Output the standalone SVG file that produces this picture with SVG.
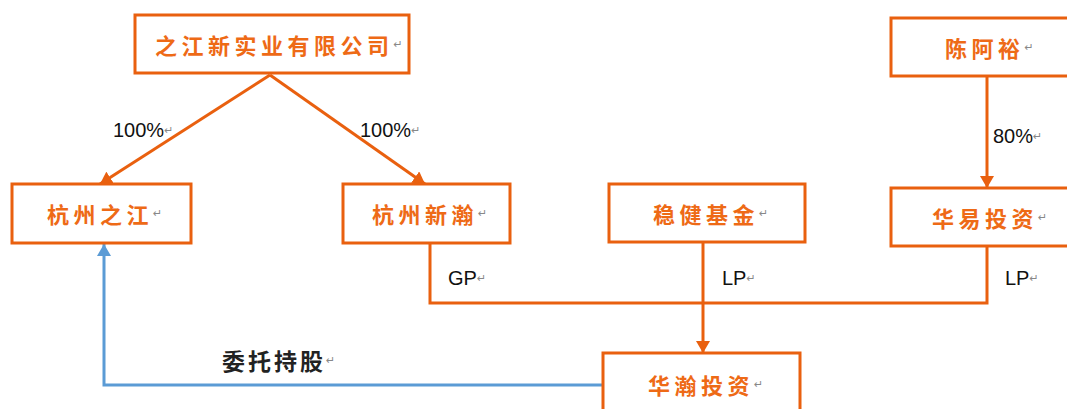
<svg xmlns="http://www.w3.org/2000/svg" width="1067" height="409" viewBox="0 0 1067 409">
<defs>
<marker id="ao" viewBox="0 0 12 14" refX="12" refY="7" markerWidth="12" markerHeight="14" markerUnits="userSpaceOnUse" orient="auto"><path d="M0,0 L12,7 L0,14 Z" fill="#E9600F"/></marker>
<marker id="ab" viewBox="0 0 12 14" refX="12" refY="7" markerWidth="12" markerHeight="14" markerUnits="userSpaceOnUse" orient="auto"><path d="M0,0 L12,7 L0,14 Z" fill="#5B9BD5"/></marker>
<style>
.box{fill:#fff;stroke:#E9600F;stroke-width:3}
.nt{font-family:"Noto Sans CJK SC","Noto Sans",sans-serif;font-size:22px;font-weight:700;fill:#EE6A16;letter-spacing:4.5px;dominant-baseline:central}
.pm{font-family:"DejaVu Sans",sans-serif;font-size:11px;fill:#888;font-weight:400;letter-spacing:0}
.lb{font-family:"Liberation Sans",Arial,sans-serif;font-size:20px;fill:#111;dominant-baseline:central}
.cl{font-family:"Noto Sans CJK SC",sans-serif;font-size:23px;font-weight:700;fill:#222;letter-spacing:3px;dominant-baseline:central}
.lo{fill:none;stroke:#E9600F;stroke-width:3}
.lbl{fill:none;stroke:#5B9BD5;stroke-width:3}
</style>
</defs>
<g id="connectors">
<line class="lo" x1="270" y1="75" x2="100" y2="184" marker-end="url(#ao)"/>
<line class="lo" x1="270" y1="75" x2="425" y2="184" marker-end="url(#ao)"/>
<line class="lo" x1="987" y1="76" x2="987" y2="188" marker-end="url(#ao)"/>
<polyline class="lo" points="430,243 430,303 987,303 987,246"/>
<line class="lo" x1="703" y1="242" x2="703" y2="353" marker-end="url(#ao)"/>
<polyline class="lbl" points="603,385 104,385 104,244" marker-end="url(#ab)"/>
<text class="lb" x="113" y="130">100%<tspan class="pm">↵</tspan></text>
<text class="lb" x="360" y="130">100%<tspan class="pm">↵</tspan></text>
<text class="lb" x="993" y="136">80%<tspan class="pm">↵</tspan></text>
<text class="lb" x="448" y="278">GP<tspan class="pm">↵</tspan></text>
<text class="lb" x="722" y="278">LP<tspan class="pm">↵</tspan></text>
<text class="lb" x="1005" y="278">LP<tspan class="pm">↵</tspan></text>
<text class="cl" x="222" y="360">委托持股<tspan class="pm">↵</tspan></text>
</g>
<g id="n_zhijiang_shiye">
<rect class="box" x="135" y="15" width="274" height="58"/>
<text class="nt" x="155" y="44">之江新实业有限公司<tspan class="pm">↵</tspan></text>
</g>
<g id="n_chenayu">
<rect class="box" x="891" y="18" width="190" height="58"/>
<text class="nt" x="945" y="47">陈阿裕<tspan class="pm">↵</tspan></text>
</g>
<g id="n_hz_zhijiang">
<rect class="box" x="12" y="184" width="179" height="59"/>
<text class="nt" x="47" y="213">杭州之江<tspan class="pm">↵</tspan></text>
</g>
<g id="n_hz_xinhan">
<rect class="box" x="343" y="184" width="167" height="59"/>
<text class="nt" x="372" y="213">杭州新瀚<tspan class="pm">↵</tspan></text>
</g>
<g id="n_wenjian">
<rect class="box" x="609" y="184" width="196" height="58"/>
<text class="nt" x="653" y="213">稳健基金<tspan class="pm">↵</tspan></text>
</g>
<g id="n_huayi">
<rect class="box" x="891" y="188" width="190" height="58"/>
<text class="nt" x="932" y="217">华易投资<tspan class="pm">↵</tspan></text>
</g>
<g id="n_huahan">
<rect class="box" x="603" y="353" width="197" height="70"/>
<text class="nt" x="648" y="384">华瀚投资<tspan class="pm">↵</tspan></text>
</g>
</svg>
